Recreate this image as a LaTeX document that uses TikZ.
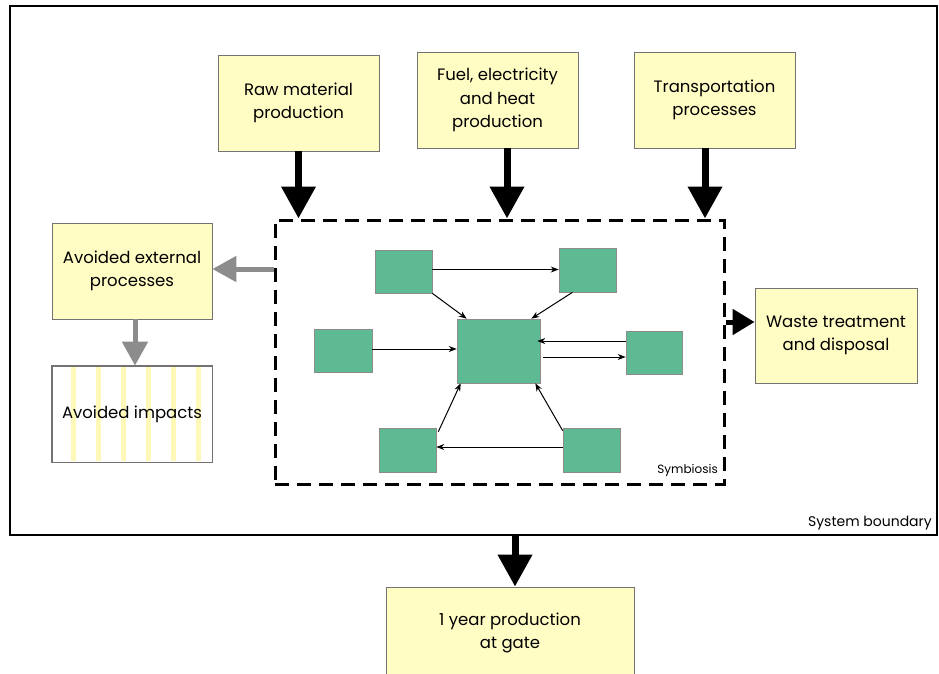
\documentclass[tikz,border=0pt]{standalone}
\usepackage{fontspec}
\setmainfont{Poppins}
\usetikzlibrary{arrows.meta}
\definecolor{boxyellow}{RGB}{255,252,196}
\definecolor{boxgreen}{RGB}{94,186,147}
\definecolor{arrgrey}{RGB}{140,140,140}
\definecolor{stripe}{RGB}{255,249,185}
\tikzset{
  ybox/.style={draw=black!55, line width=0.8pt, fill=boxyellow, inner sep=0pt, align=center, font=\fontsize{16.5}{23.5}\selectfont},
  gbox/.style={draw=black!45, line width=0.6pt, fill=boxgreen, inner sep=0pt},
  bigarrow/.style={line width=7pt, -{Triangle[width=33pt,length=32pt]}},
  greyarrow/.style={draw=arrgrey, line width=5pt, -{Triangle[width=25pt,length=24pt]}},
  midarrow/.style={line width=5pt, -{Triangle[width=25pt,length=22pt]}},
  thin/.style={line width=1pt, -{Stealth[width=6pt,length=8pt]}},
}
\begin{document}
\begin{tikzpicture}[x=1pt,y=-1pt]
\useasboundingbox (0,0) rectangle (939,673);
\fill[white] (0,0) rectangle (939,673);
% system boundary
\node[draw=black, line width=2pt, minimum width=927pt, minimum height=529pt, inner sep=0pt] (sysb) at (473.5,270.5) {};
\node[anchor=south east, inner sep=0pt, font=\fontsize{14}{16}\selectfont] (sblab) at (932,530) {System boundary};
% top boxes
\node[ybox, minimum width=161pt, minimum height=96pt] (raw) at (298.5,103) {Raw material\\production};
\node[ybox, minimum width=161pt, minimum height=96pt] (fuel) at (497.5,100) {Fuel, electricity\\and heat\\production};
\node[ybox, minimum width=161pt, minimum height=96pt] (trans) at (714.5,100) {Transportation\\processes};
% symbiosis dashed box
\node[draw=black, line width=3pt, dash pattern=on 14pt off 8pt, minimum width=449pt, minimum height=264pt, inner sep=0pt] (symb) at (499.5,352) {};
\node[anchor=south east, inner sep=0pt, font=\fontsize{12}{14}\selectfont] (symlab) at (718,477) {Symbiosis};
% left boxes
\node[ybox, minimum width=160pt, minimum height=96pt] (avoid) at (132,271) {Avoided external\\processes};
\node[draw=black!55, line width=0.8pt, fill=white, minimum width=160pt, minimum height=96pt, inner sep=0pt] (imp) at (132,414) {};
\foreach \sx in {73,98,123,148,173,198} {\fill[stripe] (\sx-2.5,367) rectangle (\sx+2.5,461);}
\draw[draw=black!55, line width=0.8pt] (imp.north west) rectangle (imp.south east);
\node[font=\fontsize{16.5}{23.5}\selectfont] (implab) at (imp.center) {Avoided impacts};
% right box
\node[ybox, minimum width=162pt, minimum height=95pt] (waste) at (836,335.5) {Waste treatment\\and disposal};
% bottom box
\node[ybox, minimum width=248pt, minimum height=92pt] (gate) at (510,633) {1 year production\\at gate};
% green boxes
\node[gbox, minimum width=57pt, minimum height=43pt] (g1) at (403.5,271.5) {};
\node[gbox, minimum width=57pt, minimum height=44pt] (g2) at (587.5,270) {};
\node[gbox, minimum width=58pt, minimum height=43pt] (g3) at (343,350.5) {};
\node[gbox, minimum width=83pt, minimum height=64pt] (gc) at (498.5,351) {};
\node[gbox, minimum width=56pt, minimum height=43pt] (g4) at (654,352.5) {};
\node[gbox, minimum width=57pt, minimum height=44pt] (g5) at (407.5,450) {};
\node[gbox, minimum width=57pt, minimum height=44pt] (g6) at (591.5,450) {};
% big arrows
\draw[bigarrow] (raw.south) -- (raw.south |- symb.north);
\draw[bigarrow] ([xshift=9.5pt]fuel.south) -- ([xshift=9.5pt]fuel.south |- symb.north);
\draw[bigarrow] ([xshift=-9.5pt]trans.south) -- ([xshift=-9.5pt]trans.south |- symb.north);
\coordinate (bout) at (515,536);
\draw[bigarrow] (bout) -- (bout |- gate.north);
% grey arrows
\draw[greyarrow] ([yshift=83pt]symb.west) -- ([yshift=83pt]symb.west -| avoid.east);
\draw[greyarrow] ([xshift=3pt]avoid.south) -- ([xshift=3pt]imp.north);
% waste arrow
\draw[midarrow] ([yshift=13.5pt]waste.west -| symb.east) -- ([yshift=13.5pt]waste.west);
% thin arrows
\draw[thin] ([yshift=2pt]g1.east) -- ([yshift=2pt]g1.east -| g2.west);
\draw[thin] (g1.south east) -- ([xshift=10pt]gc.north west);
\draw[thin] ([xshift=-15pt]g2.south) -- ([xshift=-9pt]gc.north east);
\draw[thin] ([yshift=1.5pt]g3.east) -- ([yshift=1.5pt]g3.east -| gc.west);
\draw[thin] ([yshift=11.5pt]g4.west) -- ([yshift=11.5pt,xshift=-3pt]g4.west -| gc.east);
\draw[thin] ([yshift=-6pt,xshift=3pt]gc.east) -- ([yshift=-6pt]gc.east -| g4.west);
\draw[thin] ([yshift=3pt]g6.west) -- ([yshift=3pt]g6.west -| g5.east);
\draw[thin] ([xshift=2pt,yshift=-4pt]g5.north east) -- ([xshift=4pt]gc.south west);
\draw[thin] ([yshift=-3pt]g6.north west) -- ([xshift=-5pt]gc.south east);
\end{tikzpicture}
\end{document}
